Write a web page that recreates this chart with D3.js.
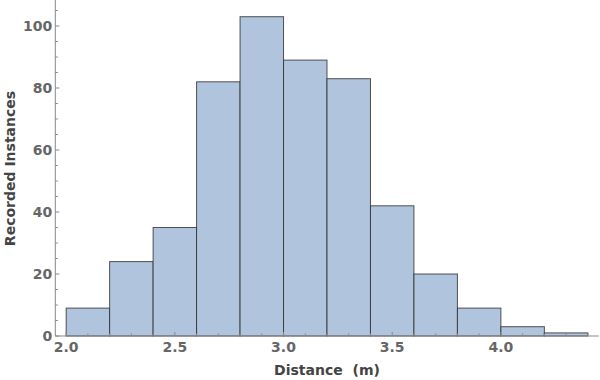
<!DOCTYPE html>
<html><head><meta charset="utf-8">
<script src="https://cdn.jsdelivr.net/npm/d3@7"></script>
<style>body{margin:0;background:#fff}svg{display:block}</style>
</head><body>
<svg id="c" width="600" height="380"></svg>
<script>
const binStarts = [2.0,2.2,2.4,2.6,2.8,3.0,3.2,3.4,3.6,3.8,4.0,4.2];
const binWidth = 0.2;
const counts = [9,24,35,82,103,89,83,42,20,9,3,1];
const xTickLabels = ["2.0","2.5","3.0","3.5","4.0"];
const yTickLabels = [0,20,40,60,80,100];
const xLabel = "Distance  (m)";
const yLabel = "Recorded Instances";

const svg = d3.select("#c");
const x = d3.scaleLinear().domain([1.95, 4.45]).range([55.3, 598.7]);
const y = d3.scaleLinear().domain([0, 100]).range([336, 26]);
const axisCol = "#888";
const labCol = "#666";
const font = "DejaVu Sans, sans-serif";

// bars
svg.append("g").selectAll("rect").data(counts).join("rect")
  .attr("x", (d,i)=>x(binStarts[i]))
  .attr("y", d=>y(d))
  .attr("width", (d,i)=>x(binStarts[i]+binWidth)-x(binStarts[i]))
  .attr("height", d=>y(0)-y(d))
  .attr("fill", "#b0c4de")
  .attr("stroke", "#2a2a2a")
  .attr("stroke-opacity", 0.8)
  .attr("stroke-width", 1);

// x axis
const xg = svg.append("g").attr("transform","translate(0,336)");
xg.append("line").attr("x1",x(1.95)).attr("x2",x(4.45)).attr("stroke",axisCol);
const xMinor = d3.range(20,45).map(v=>v/10);
xg.selectAll("line.t").data(xMinor).join("line").attr("class","t")
  .attr("x1",d=>x(d)).attr("x2",d=>x(d))
  .attr("y1",0).attr("y2",d=>Math.abs(d*2-Math.round(d*2))<1e-6?-4:-2.5)
  .attr("stroke",axisCol);
xg.selectAll("text").data(xTickLabels).join("text")
  .attr("x",d=>x(+d)).attr("y",16)
  .attr("text-anchor","middle")
  .attr("font-family",font).attr("font-weight","bold")
  .attr("font-size",14).attr("fill",labCol).text(d=>d);

// y axis
const yg = svg.append("g").attr("transform","translate(55.3,0)");
yg.append("line").attr("y1",y(0)).attr("y2",0).attr("stroke",axisCol);
const yMinor = d3.range(0,110,5);
yg.selectAll("line.t").data(yMinor).join("line").attr("class","t")
  .attr("y1",d=>y(d)).attr("y2",d=>y(d))
  .attr("x1",0).attr("x2",d=>d%20===0?4:2.5)
  .attr("stroke",axisCol);
yg.selectAll("text").data(yTickLabels).join("text")
  .attr("x",-3).attr("y",d=>y(d)).attr("dy","0.36em")
  .attr("text-anchor","end")
  .attr("font-family",font).attr("font-weight","bold")
  .attr("font-size",14).attr("fill",labCol).text(d=>d);

// axis titles
svg.append("text").attr("x",327).attr("y",375)
  .attr("text-anchor","middle")
  .attr("font-family",font).attr("font-weight","bold")
  .attr("font-size",14).attr("fill","#444")
  .style("white-space","pre").text(xLabel);
svg.append("text").attr("transform","translate(15,168.5) rotate(-90)")
  .attr("text-anchor","middle")
  .attr("font-family",font).attr("font-weight","bold")
  .attr("font-size",14).attr("fill","#444").text(yLabel);
</script>
</body></html>
